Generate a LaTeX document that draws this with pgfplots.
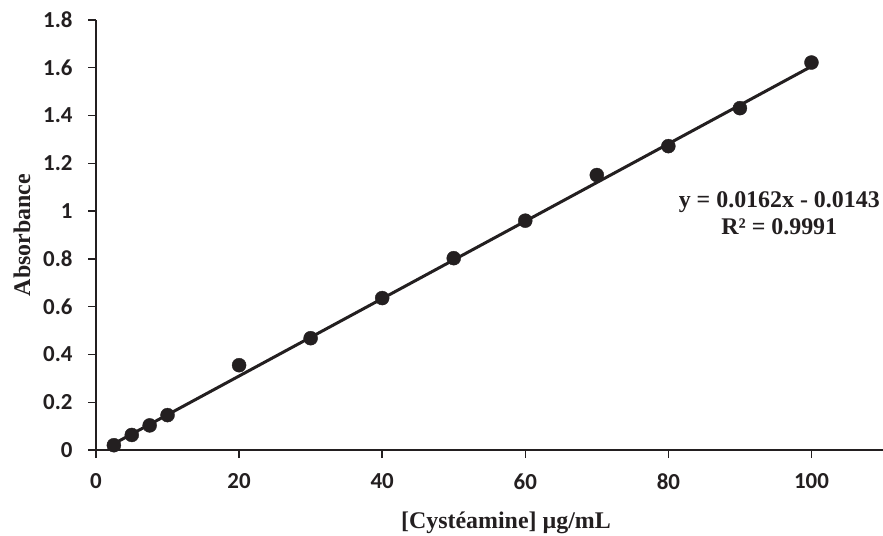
\documentclass[border=0pt]{standalone}
\usepackage{fontspec}
\setmainfont{Liberation Serif}
\newfontfamily\carlito{Carlito}
\usepackage{pgfplots}
\pgfplotsset{compat=1.18}
\usetikzlibrary{calc}
\definecolor{ink}{HTML}{231F20}

\begin{document}
\begin{tikzpicture}
\begin{axis}[
    scale only axis,
    width=787bp, height=430bp,
    xmin=0, xmax=110,
    ymin=0, ymax=1.8,
    xtick={0,20,...,100},
    ytick={0,0.2,...,1.8},
    axis x line=bottom, axis y line=left,
    axis line style={-, ink, line width=1.6bp},
    tick style={ink, line width=1.4bp},
    tick align=outside,
    major tick length=8bp,
    /pgf/number format/assume math mode=true,
    /pgf/number format/fixed,
    /pgf/number format/precision=1,
    tick label style={font=\carlito\bfseries\fontsize{23}{26}\selectfont, text=ink},
    xticklabel style={yshift=-12bp},
    yticklabel style={xshift=-12bp},
    xlabel={[Cystéamine] µg/mL},
    ylabel={Absorbance},
    every axis x label/.style={at={(axis description cs:0,0)}, anchor=base, xshift=410bp, yshift=-78bp,
        font=\bfseries\fontsize{24}{28}\selectfont, text=ink},
    every axis y label/.style={at={(axis description cs:0,0.5)}, rotate=90, anchor=center, yshift=74bp,
        font=\bfseries\fontsize{24}{28}\selectfont, text=ink},
    clip=false,
]
% linear trend line
\addplot[ink, line width=3bp, no marks] coordinates {(2.5,0.0262) (100,1.6057)};
% measured points
\addplot[only marks, mark=*, mark size=7bp, mark options={fill=ink, draw=ink}] coordinates {
    (2.5,0.02) (5,0.063) (7.5,0.103) (10,0.146) (20,0.355) (30,0.468)
    (40,0.636) (50,0.803) (60,0.960) (70,1.151) (80,1.272) (90,1.431) (100,1.622)
};
\node[align=center, font=\bfseries\fontsize{24}{27}\selectfont, text=ink] at (axis cs:95.5,0.99)
    {y = 0.0162x - 0.0143\\R² = 0.9991};
\end{axis}
\pgfresetboundingbox
\path ($(current axis.south west)+(-96bp,-86bp)$) rectangle ($(current axis.north east)+(0,20bp)$);
\end{tikzpicture}
\end{document}
